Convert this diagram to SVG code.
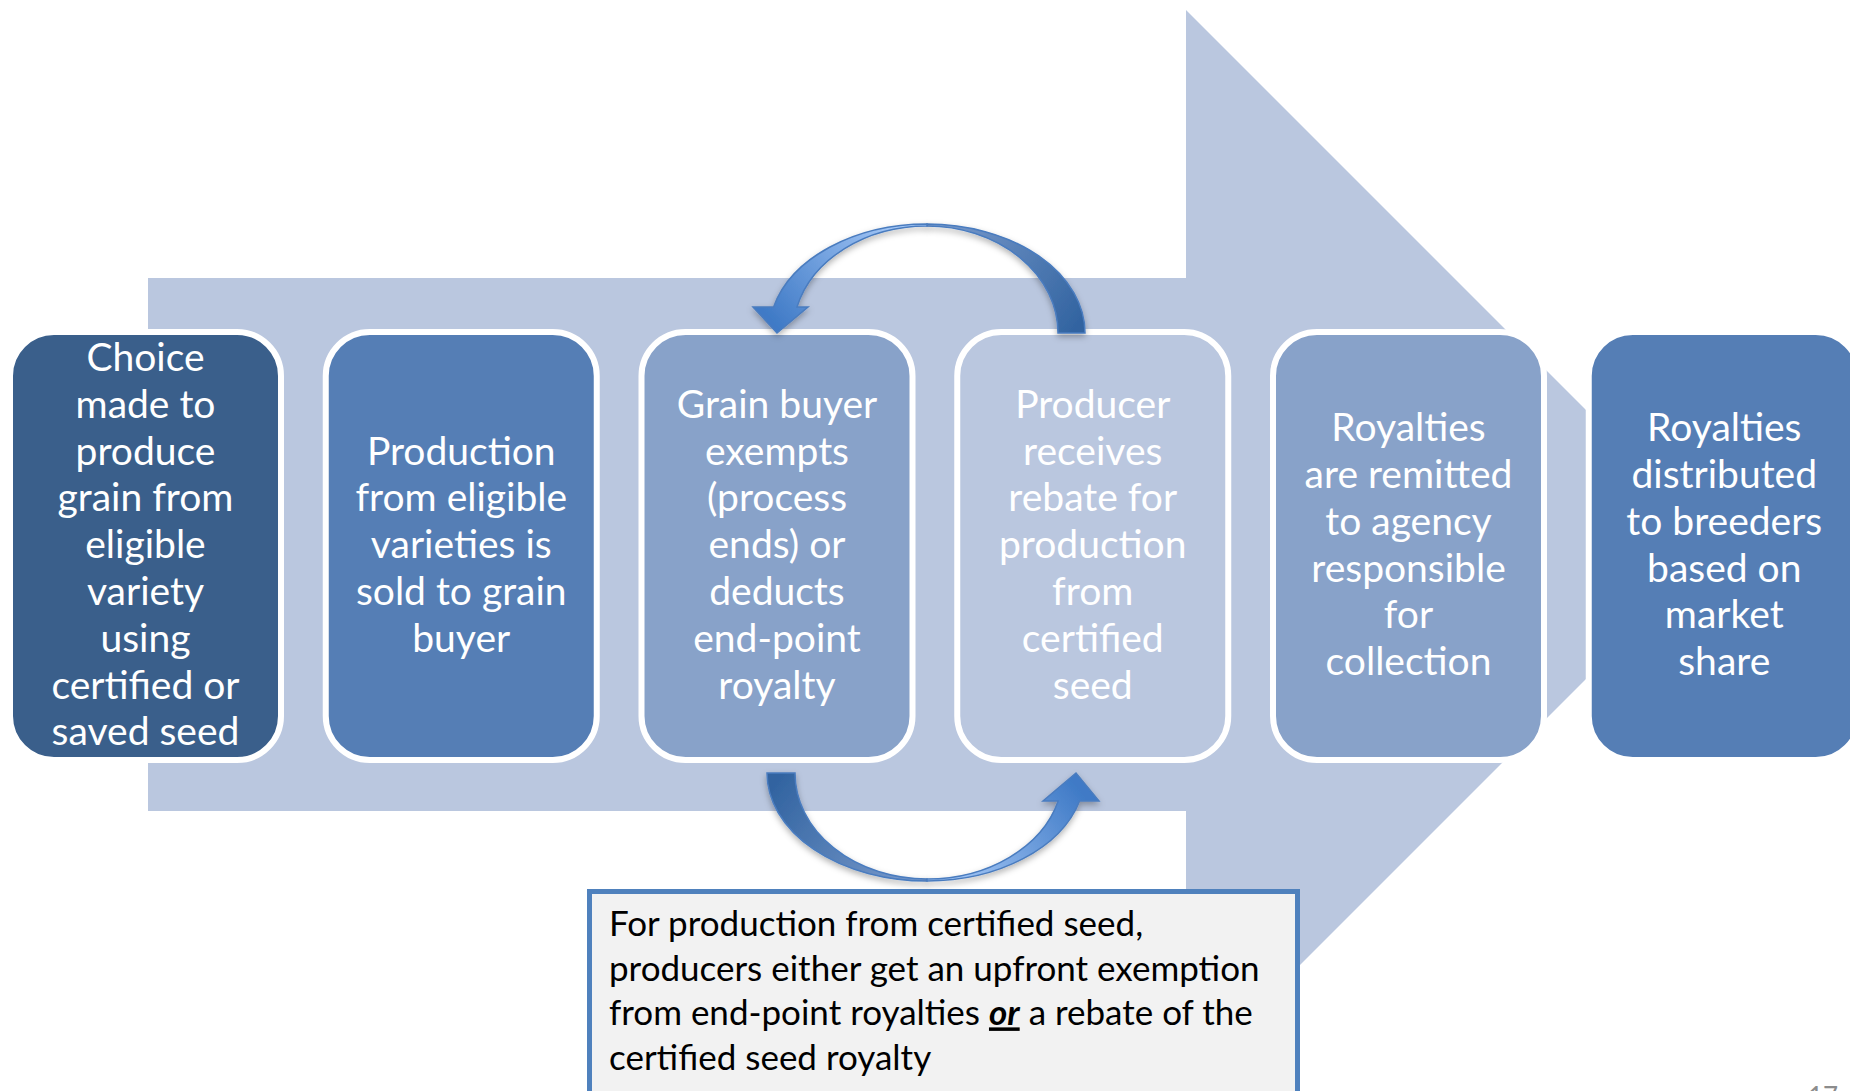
<svg xmlns="http://www.w3.org/2000/svg" width="1850" height="1091" viewBox="0 0 1850 1091">
<style>
.box{stroke:#FFFFFF;stroke-width:6}
.bt{font-family:Lato,"Open Sans","Liberation Sans",sans-serif;font-size:39px;fill:#FFFFFF;text-anchor:middle}
.nt{font-family:Lato,"Open Sans","Liberation Sans",sans-serif;font-size:35px;fill:#000000}
.carrow{stroke:#4A7CBF;stroke-width:1.5;filter:url(#sh)}
</style>
<defs>
<filter id="sh" x="-20%" y="-20%" width="140%" height="140%">
<feDropShadow dx="0" dy="3" stdDeviation="3" flood-color="#000" flood-opacity="0.3"/>
</filter>
<linearGradient id="tFront" gradientUnits="userSpaceOnUse" x1="905" y1="224" x2="780" y2="330">
<stop offset="0" stop-color="#A9CBF9"/><stop offset="1" stop-color="#3F7AC6"/>
</linearGradient>
<linearGradient id="tBack" gradientUnits="userSpaceOnUse" x1="927" y1="224" x2="1075" y2="333">
<stop offset="0" stop-color="#7C9CCD"/><stop offset="1" stop-color="#3163A0"/>
</linearGradient>
<linearGradient id="bBack" gradientUnits="userSpaceOnUse" x1="780" y1="773" x2="927" y2="881">
<stop offset="0" stop-color="#3163A0"/><stop offset="1" stop-color="#7C9CCD"/>
</linearGradient>
<linearGradient id="bFront" gradientUnits="userSpaceOnUse" x1="940" y1="881" x2="1072" y2="780">
<stop offset="0" stop-color="#A9CBF9"/><stop offset="1" stop-color="#3F7AC6"/>
</linearGradient>
</defs>
<rect width="1850" height="1091" fill="#FFFFFF"/>
<polygon id="bigArrow" points="148,278 1186,278 1186,10 1720.5,544.5 1186,1079 1186,811 148,811" fill="#BAC7DF"/>

<g id="node1">
<rect class="box" x="10" y="332" width="271" height="428" rx="44" fill="#3A5F8B"/>
<text class="bt" x="145.5" y="371"><tspan x="145.5">Choice</tspan><tspan x="145.5" dy="46.8">made to</tspan><tspan x="145.5" dy="46.8">produce</tspan><tspan x="145.5" dy="46.8">grain from</tspan><tspan x="145.5" dy="46.8">eligible</tspan><tspan x="145.5" dy="46.8">variety</tspan><tspan x="145.5" dy="46.8">using</tspan><tspan x="145.5" dy="46.8">certified or</tspan><tspan x="145.5" dy="46.8">saved seed</tspan></text>
</g>
<g id="node2">
<rect class="box" x="325.75" y="332" width="271" height="428" rx="44" fill="#557EB5"/>
<text class="bt" x="461.25" y="464.6"><tspan x="461.25">Production</tspan><tspan x="461.25" dy="46.8">from eligible</tspan><tspan x="461.25" dy="46.8">varieties is</tspan><tspan x="461.25" dy="46.8">sold to grain</tspan><tspan x="461.25" dy="46.8">buyer</tspan></text>
</g>
<g id="node3">
<rect class="box" x="641.5" y="332" width="271" height="428" rx="44" fill="#88A2C9"/>
<text class="bt" x="777" y="417.8"><tspan x="777">Grain buyer</tspan><tspan x="777" dy="46.8">exempts</tspan><tspan x="777" dy="46.8">(process</tspan><tspan x="777" dy="46.8">ends) or</tspan><tspan x="777" dy="46.8">deducts</tspan><tspan x="777" dy="46.8">end-point</tspan><tspan x="777" dy="46.8">royalty</tspan></text>
</g>
<g id="node4">
<rect class="box" x="957.25" y="332" width="271" height="428" rx="44" fill="#BAC7DF"/>
<text class="bt" x="1092.75" y="417.8"><tspan x="1092.75">Producer</tspan><tspan x="1092.75" dy="46.8">receives</tspan><tspan x="1092.75" dy="46.8">rebate for</tspan><tspan x="1092.75" dy="46.8">production</tspan><tspan x="1092.75" dy="46.8">from</tspan><tspan x="1092.75" dy="46.8">certified</tspan><tspan x="1092.75" dy="46.8">seed</tspan></text>
</g>
<g id="node5">
<rect class="box" x="1273" y="332" width="271" height="428" rx="44" fill="#88A2C9"/>
<text class="bt" x="1408.5" y="441.2"><tspan x="1408.5">Royalties</tspan><tspan x="1408.5" dy="46.8">are remitted</tspan><tspan x="1408.5" dy="46.8">to agency</tspan><tspan x="1408.5" dy="46.8">responsible</tspan><tspan x="1408.5" dy="46.8">for</tspan><tspan x="1408.5" dy="46.8">collection</tspan></text>
</g>
<g id="node6">
<rect class="box" x="1588.75" y="332" width="271" height="428" rx="44" fill="#557EB5"/>
<text class="bt" x="1724.25" y="441.2"><tspan x="1724.25">Royalties</tspan><tspan x="1724.25" dy="46.8">distributed</tspan><tspan x="1724.25" dy="46.8">to breeders</tspan><tspan x="1724.25" dy="46.8">based on</tspan><tspan x="1724.25" dy="46.8">market</tspan><tspan x="1724.25" dy="46.8">share</tspan></text>
</g>

<g id="connectors">
<g id="topCurvedArrow">
<path class="carrow" fill="url(#tBack)" d="M927,224 A158,109 0 0 1 1085,333 L1058,333 A131,107 0 0 0 927,226 Z"/>
<path class="carrow" fill="url(#tFront)" d="M927,224 A158,109 0 0 0 773.6,307 L753,307 L777,333 L808,307 L797,307 A134,107 0 0 1 927,226 Z"/>
</g>
<g id="bottomCurvedArrow">
<path class="carrow" fill="url(#bBack)" d="M767,773 A160,108 0 0 0 927,881 L927,879 A132,106 0 0 1 795,773 Z"/>
<path class="carrow" fill="url(#bFront)" d="M927,881 A158,108 0 0 0 1079.6,801 L1099,801 L1076,773 L1043,801 L1058.2,801 A136,106 0 0 1 927,879 Z"/>
</g>
</g>

<g id="note">
<rect x="589.5" y="891.5" width="708" height="220" fill="#F2F2F2" stroke="#4F81BD" stroke-width="5"/>
<text class="nt" x="609" y="936"><tspan x="609">For production from certified seed,</tspan><tspan x="609" dy="44.7">producers either get an upfront exemption</tspan><tspan x="609" dy="44.7">from end-point royalties <tspan font-weight="bold" font-style="italic" text-decoration="underline">or</tspan> a rebate of the</tspan><tspan x="609" dy="44.7">certified seed royalty</tspan></text>
</g>
<text x="1808" y="1106" font-family="Lato,'Liberation Sans',sans-serif" font-size="26" fill="#8C8C8C">17</text>
</svg>
